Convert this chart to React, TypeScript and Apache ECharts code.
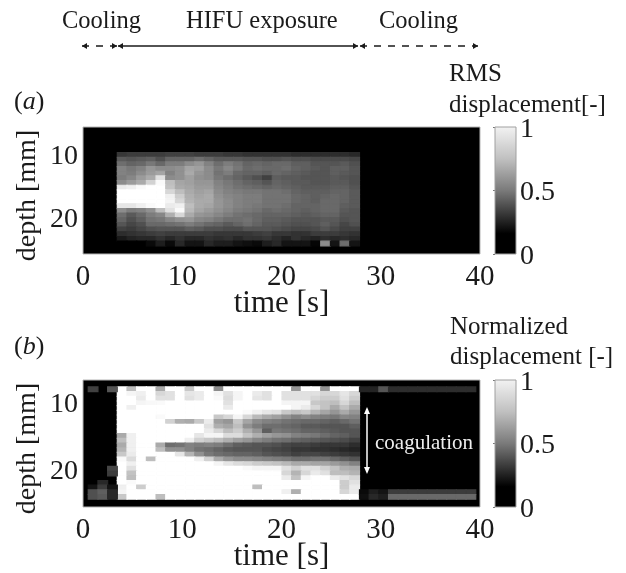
import React, { useEffect, useRef } from "react";
import * as echarts from "echarts";

// Shade readings (0 = black, 255 = white).
const rmsRows: number[][] = [
  [55,60,60,60,60,65,65,65,60,60,60,55,55,50,50,50,50,50,45,45,45,45,45,45,40],
  [90,85,90,95,80,100,100,100,110,100,90,90,90,85,85,80,80,85,80,80,75,75,75,75,70],
  [110,100,105,120,105,125,125,140,150,130,110,125,115,100,105,100,105,105,95,95,85,85,85,90,80],
  [130,120,130,150,140,140,145,165,160,140,120,135,120,105,110,105,105,110,100,95,90,85,95,95,85],
  [130,125,140,155,165,130,145,170,150,140,115,125,105,100,100,95,105,100,95,90,85,85,95,90,85],
  [125,135,155,170,225,140,145,160,145,140,120,110,100,90,80,65,95,90,90,85,85,85,90,85,80],
  [140,155,170,210,250,190,165,160,150,150,130,120,110,100,95,85,100,95,90,90,85,85,90,90,80],
  [235,240,250,255,255,195,170,165,155,155,135,125,115,110,105,100,105,100,95,90,90,90,95,95,85],
  [255,255,255,255,255,215,190,170,160,165,140,130,125,120,120,115,115,110,100,95,95,95,100,100,90],
  [255,255,255,255,255,240,205,175,165,170,145,135,130,125,125,115,115,115,105,100,95,100,105,100,90],
  [255,255,255,255,255,245,215,180,170,170,150,140,130,125,125,115,115,115,105,100,95,105,105,100,90],
  [230,230,240,250,255,235,240,190,170,165,150,140,130,125,120,115,115,110,100,100,100,105,105,95,90],
  [140,125,130,145,190,225,250,185,165,155,145,135,125,120,115,105,110,105,100,95,100,105,105,90,85],
  [110,90,105,125,135,175,215,170,150,145,135,125,115,110,105,100,100,100,95,90,95,100,100,85,85],
  [100,80,95,115,120,135,145,150,135,130,120,110,110,115,105,95,95,90,85,85,85,90,90,80,85],
  [85,70,80,105,105,110,115,125,115,105,100,90,100,110,100,90,90,85,80,80,85,95,85,70,80],
  [65,60,70,80,85,85,85,95,90,80,80,75,75,85,85,85,80,75,70,70,75,85,75,65,65],
  [45,50,55,60,65,60,60,60,60,60,55,55,55,55,60,65,55,55,50,50,60,60,60,55,50],
  [25,35,40,40,50,40,50,40,40,50,45,50,40,50,50,55,45,35,50,40,35,45,40,45,40],
  [0,0,0,10,30,10,40,20,20,40,30,30,20,15,10,30,40,20,20,20,5,140,20,110,20],
];
const rmsFirstRow = 4;
const rmsFirstColumn = 3;

const normRows: number[][] = [
  [255,190,255,255,170,255,255,200,255,255,140,255,255,255,255,255,255,255,150,255,255,150,255,255,255],
  [255,245,240,255,215,225,255,230,235,255,245,225,245,255,235,225,255,225,225,225,225,215,215,230,215],
  [255,255,235,255,225,225,255,225,235,255,250,220,245,255,230,225,255,225,225,225,215,205,205,225,205],
  [255,255,245,248,250,255,255,255,255,255,255,225,255,255,255,255,255,245,245,245,200,195,190,215,190],
  [255,240,255,255,255,255,255,255,255,255,255,235,255,255,255,255,255,255,245,235,215,195,170,195,170],
  [255,255,255,255,255,255,255,255,255,255,255,255,255,250,240,230,225,200,190,200,180,165,150,170,150],
  [255,255,255,255,250,255,255,255,255,255,200,215,245,215,185,170,160,145,130,140,130,125,120,135,130],
  [255,255,255,255,255,210,175,170,200,235,160,150,200,165,140,130,125,115,110,105,105,100,95,105,115],
  [255,255,255,255,255,255,255,255,255,225,175,165,190,145,125,110,110,105,100,90,90,85,85,85,95],
  [255,255,255,255,255,255,255,255,255,235,215,190,205,175,150,95,120,115,110,100,100,95,90,85,85],
  [170,240,255,255,255,255,255,255,230,245,245,220,220,195,175,160,150,145,130,125,120,110,100,95,85],
  [190,240,255,255,255,255,255,240,210,200,190,175,160,150,135,125,115,110,100,95,90,85,80,75,65],
  [170,240,255,255,170,110,115,130,125,130,125,110,95,90,85,85,80,70,65,65,60,55,55,55,45],
  [180,240,255,255,190,145,145,130,115,110,100,90,85,85,85,75,70,65,55,55,50,50,45,40,35],
  [200,235,255,255,255,255,230,180,145,120,110,105,100,100,95,85,80,75,65,70,70,65,60,55,50],
  [250,220,255,190,255,255,255,255,240,210,170,150,140,140,135,130,125,120,110,110,115,115,105,95,85],
  [255,240,255,255,255,255,255,255,255,255,245,230,220,215,205,200,195,185,170,170,165,165,155,145,130],
  [255,225,255,255,255,255,255,255,255,255,255,255,255,250,245,245,245,225,210,225,225,210,195,175,170],
  [255,195,255,255,255,255,255,255,255,255,255,255,255,255,255,255,255,215,180,215,235,225,190,190,180],
  [255,190,255,255,255,255,255,255,255,255,255,255,255,255,255,255,255,235,195,245,255,255,235,225,215],
  [255,250,255,255,255,255,255,255,255,255,255,255,255,255,255,255,255,255,255,255,255,255,255,205,225],
  [240,255,205,255,255,255,255,255,255,255,255,255,255,255,190,255,255,255,255,255,255,255,255,205,235],
  [245,255,255,255,255,255,255,255,255,255,255,255,255,255,255,255,255,240,175,255,255,255,255,215,235],
  [200,255,255,255,190,255,255,255,255,255,255,255,255,255,255,255,255,255,255,255,255,255,255,255,255],
];
const normFirstColumn = 3;

// [row, column, shade] readings in the cooling phases of panel (b).
const normLeftCells: number[][] = [
  [0,0,65],[0,2,85],[17,2,70],[18,2,60],[20,1,40],[21,0,20],[21,1,60],[21,2,20],
  [22,0,80],[22,1,95],[22,2,40],[23,0,80],[23,1,90],[23,2,40],
];
const normRightTop = [35,35,85,45,45,45,45,45,45,45,45,45];
const normRightLow = [10,30,20,60,60,60,60,60,60,60,60,60];
const normRightBottom = [15,40,30,105,105,105,105,105,105,105,105,105];
const normRightFirstColumn = 28;

const timeTicks = [0, 10, 20, 30, 40];
const depthTicks = [10, 20];
const colorTicks = [0, 0.5, 1];

const timeStart = 0.53;
const timeStep = 0.976;
const rmsDepth = { min: 5.7, max: 25.87, start: 6.81, step: 0.74 };
const normDepth = { min: 6.56, max: 25.57, start: 7.6, step: 0.7 };

const SERIF = '"Liberation Serif", "Times New Roman", serif';
const INK = "#1a1a1a";

function cell(d: { start: number; step: number }, row: number, col: number, shade: number) {
  return [timeStart + col * timeStep, d.start + row * d.step, shade];
}

const rmsData = rmsRows.flatMap((r, i) => r.map((s, j) => cell(rmsDepth, i + rmsFirstRow, j + rmsFirstColumn, s)));
const normData = [
  ...normRows.flatMap((r, i) => r.map((s, j) => cell(normDepth, i, j + normFirstColumn, s))),
  ...normLeftCells.map(([r, c, s]) => cell(normDepth, r, c, s)),
  ...normRightTop.map((s, j) => cell(normDepth, 0, j + normRightFirstColumn, s)),
  ...normRightLow.map((s, j) => cell(normDepth, 22, j + normRightFirstColumn, s)),
  ...normRightBottom.map((s, j) => cell(normDepth, 23, j + normRightFirstColumn, s)),
];

const renderCell = (depthStep: number) => (params: any, api: any) => {
  const p = api.coord([api.value(0), api.value(1)]);
  const size = api.size([timeStep, depthStep]);
  const g = Math.round(api.value(2));
  const color = `rgb(${g},${g},${g})`;
  return {
    type: "rect",
    shape: { x: p[0], y: p[1], width: size[0], height: size[1] },
    style: { fill: color, stroke: color, lineWidth: 1.2 },
  };
};

function renderColorbar(params: any) {
  const cs = params.coordSys;
  return {
    type: "rect",
    shape: { x: cs.x, y: cs.y, width: cs.width, height: cs.height },
    style: {
      stroke: "#a0a0a0",
      lineWidth: 1,
      fill: new echarts.graphic.LinearGradient(0, 0, 0, 1, [
        { offset: 0, color: "#f2f2f2" },
        { offset: 0.25, color: "#c0c0c0" },
        { offset: 0.5, color: "#7a7a7a" },
        { offset: 0.84, color: "#000000" },
        { offset: 1, color: "#000000" },
      ]),
    },
  };
}

function hArrowEls(x1: number, x2: number, y: number, dash: boolean) {
  const color = INK;
  const h = 3;
  const w = 5;
  return [
    { type: "line", shape: { x1, y1: y, x2, y2: y }, style: { stroke: color, lineWidth: 1.4, lineDash: dash ? [7, 7] : null } },
    { type: "polygon", shape: { points: [[x1, y], [x1 + w, y - h], [x1 + w, y + h]] }, style: { fill: color } },
    { type: "polygon", shape: { points: [[x2, y], [x2 - w, y - h], [x2 - w, y + h]] }, style: { fill: color } },
  ];
}

function label(text: string, x: number, y: number, size: number, extra: any = {}) {
  return {
    type: "text",
    x,
    y,
    style: { text, fontFamily: SERIF, fontSize: size, fill: INK, textAlign: "left", textVerticalAlign: "middle", ...extra },
  };
}

function plotAxes(gridIndex: number, d: { min: number; max: number }) {
  return {
    x: {
      type: "value", gridIndex, min: 0, max: 40, interval: 10,
      axisLine: { show: false }, axisTick: { show: false }, splitLine: { show: false },
      axisLabel: { fontFamily: SERIF, fontSize: 29, color: INK, margin: 6, customValues: timeTicks },
      name: "time [s]", nameLocation: "middle", nameGap: 32, nameMoveOverlap: false,
      nameTextStyle: { fontFamily: SERIF, fontSize: 31, color: INK },
    },
    y: {
      type: "value", gridIndex, min: d.min, max: d.max, inverse: true,
      axisLine: { show: false }, axisTick: { show: false }, splitLine: { show: false },
      axisLabel: { fontFamily: SERIF, fontSize: 28, color: INK, margin: 5, customValues: depthTicks },
      name: "depth [mm]", nameLocation: "middle", nameGap: 31,
      nameTextStyle: { fontFamily: SERIF, fontSize: 28, color: INK, padding: [0, 10, 0, 0] },
    },
  };
}

function barAxes(gridIndex: number) {
  return {
    x: { type: "value", gridIndex, min: 0, max: 1, show: false },
    y: {
      type: "value", gridIndex, min: 0, max: 1, interval: 0.5, position: "right",
      axisLine: { show: false }, splitLine: { show: false },
      axisTick: { show: true, inside: true, length: 2, lineStyle: { color: "#777" } },
      axisLabel: {
        fontFamily: SERIF, fontSize: 28, color: INK, margin: 4, padding: [6, 0, 0, 0],
        customValues: colorTicks, formatter: (v: number) => String(v),
      },
    },
  };
}

export default function App() {
  const ref = useRef<HTMLDivElement>(null);
  useEffect(() => {
    if (!ref.current) return;
    const chart = echarts.init(ref.current, undefined, { renderer: "svg" });
    const a1 = plotAxes(0, rmsDepth);
    const a2 = barAxes(1);
    const a3 = plotAxes(2, normDepth);
    const a4 = barAxes(3);
    const common = { show: true, backgroundColor: "#000", borderColor: "#b5b5b5", borderWidth: 1, outerBoundsMode: "none" };
    chart.setOption({
      animation: false,
      backgroundColor: "#fff",
      grid: [
        { ...common, left: 83, top: 127, width: 397, height: 127 },
        { show: false, outerBoundsMode: "none", left: 495, top: 127, width: 21, height: 127 },
        { ...common, left: 83, top: 380, width: 397, height: 127 },
        { show: false, outerBoundsMode: "none", left: 495, top: 380, width: 21, height: 127 },
      ],
      xAxis: [a1.x, a2.x, a3.x, a4.x],
      yAxis: [a1.y, a2.y, a3.y, a4.y],
      series: [
        { type: "custom", xAxisIndex: 0, yAxisIndex: 0, data: rmsData, encode: { x: 0, y: 1 }, renderItem: renderCell(rmsDepth.step), clip: true, silent: true },
        { type: "custom", xAxisIndex: 1, yAxisIndex: 1, data: [[0, 0]], renderItem: renderColorbar, silent: true },
        { type: "custom", xAxisIndex: 2, yAxisIndex: 2, data: normData, encode: { x: 0, y: 1 }, renderItem: renderCell(normDepth.step), clip: true, silent: true },
        { type: "custom", xAxisIndex: 3, yAxisIndex: 3, data: [[0, 0]], renderItem: renderColorbar, silent: true },
      ],
      graphic: [
        label("Cooling", 62, 19, 24.5),
        label("HIFU exposure", 186, 19, 24.5),
        label("Cooling", 379, 19, 24.5),
        ...hArrowEls(82, 117, 46, true),
        ...hArrowEls(118, 358, 46, false),
        ...hArrowEls(360, 478, 46, true),
        label("RMS", 449, 72, 25),
        label("displacement[-]", 449, 103, 25),
        label("Normalized", 450, 325, 25),
        label("displacement [-]", 450, 355, 25),
        {
          type: "text", x: 14, y: 100,
          style: { text: "({i|a})", fontFamily: SERIF, fontSize: 26, fill: INK, textVerticalAlign: "middle",
            rich: { i: { fontFamily: SERIF, fontSize: 26, fontStyle: "italic", fill: INK } } },
        },
        {
          type: "text", x: 14, y: 345,
          style: { text: "({i|b})", fontFamily: SERIF, fontSize: 26, fill: INK, textVerticalAlign: "middle",
            rich: { i: { fontFamily: SERIF, fontSize: 26, fontStyle: "italic", fill: INK } } },
        },
        { type: "line", shape: { x1: 367, y1: 409, x2: 367, y2: 472 }, style: { stroke: "#fff", lineWidth: 1.5 }, z: 10 },
        { type: "polygon", shape: { points: [[367, 407], [364, 414], [370, 414]] }, style: { fill: "#fff" }, z: 10 },
        { type: "polygon", shape: { points: [[367, 474], [364, 467], [370, 467]] }, style: { fill: "#fff" }, z: 10 },
        { ...label("coagulation", 375, 442, 21, { fill: "#eee" }), z: 10 },
      ],
    });
    return () => chart.dispose();
  }, []);
  return <div ref={ref} style={{ position: "fixed", left: 0, top: 0, width: 626, height: 573, filter: "blur(0.5px)" }} />;
}
